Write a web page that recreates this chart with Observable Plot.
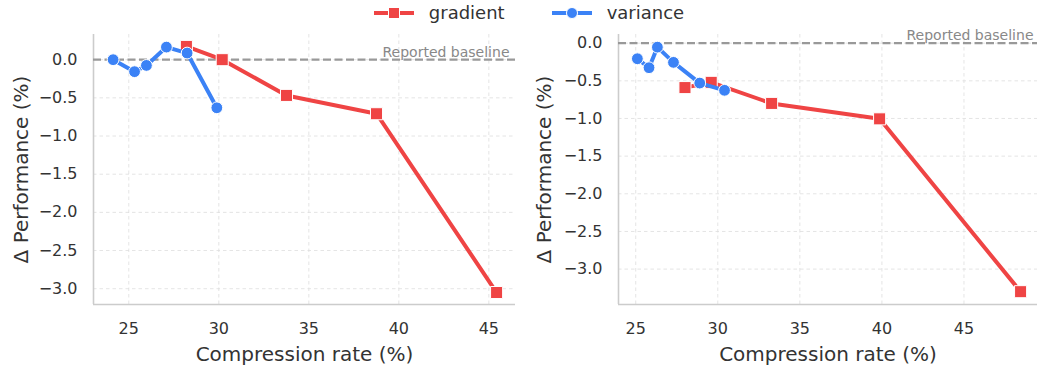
<!DOCTYPE html>
<html>
<head>
<meta charset="utf-8">
<script src="https://cdn.jsdelivr.net/npm/d3@7"></script>
<script src="https://cdn.jsdelivr.net/npm/@observablehq/plot@0.6"></script>
<style>
  body { margin: 0; background: #fff; font-family: "DejaVu Sans", sans-serif; color: #333; }
  #legend { height: 25px; display: flex; justify-content: center; align-items: center; padding-left: 20px; font-size: 18px; }
  .item { display: flex; align-items: center; margin: 0 23px; }
  .item svg { margin-right: 14px; }
  #row { display: flex; }
</style>
</head>
<body>
<div id="legend"></div>
<div id="row"></div>
<script>
// ---- data ----
const series = ["gradient", "variance"];
const seriesColors = ["#ef4444", "#3b82f6"];
const seriesSymbols = ["square", "circle"];

const leftGradientX = [28.2, 30.19, 33.76, 38.76, 45.43];
const leftGradientY = [0.174, 0.0, -0.468, -0.708, -3.05];
const leftVarianceX = [24.13, 25.32, 25.98, 27.09, 28.24, 29.89];
const leftVarianceY = [0.0, -0.157, -0.075, 0.165, 0.087, -0.63];

const rightGradientX = [28.0, 29.6, 33.28, 39.86, 48.45];
const rightGradientY = [-0.59, -0.52, -0.80, -1.005, -3.30];
const rightVarianceX = [25.1, 25.81, 26.32, 27.3, 28.9, 30.41];
const rightVarianceY = [-0.207, -0.326, -0.053, -0.255, -0.53, -0.626];

const xTicks = [25, 30, 35, 40, 45];
const yTicks = [0, -0.5, -1.0, -1.5, -2.0, -2.5, -3.0];
const baselineValue = [0];
const baselineLabel = "Reported baseline";
const xLabel = "Compression rate (%)";
const yLabel = "Δ Performance (%)";

const leftXDomain = [23.04, 46.48];
const leftYDomain = [-3.207, 0.33];
const rightXDomain = [23.95, 49.48];
const rightYDomain = [-3.47, 0.115];

// ---- legend ----
const legend = d3.select("#legend");
series.forEach((s, i) => {
  const item = legend.append("div").attr("class", "item");
  const svg = item.append("svg").attr("width", 42).attr("height", 14);
  svg.append("line").attr("x1", 1).attr("x2", 41).attr("y1", 7).attr("y2", 7)
    .attr("stroke", seriesColors[i]).attr("stroke-width", 4);
  if (seriesSymbols[i] === "square") {
    svg.append("rect").attr("x", 15.5).attr("y", 1.5).attr("width", 11).attr("height", 11)
      .attr("fill", seriesColors[i]).attr("stroke", "#fff").attr("stroke-width", 1);
  } else {
    svg.append("circle").attr("cx", 21).attr("cy", 7).attr("r", 5.5)
      .attr("fill", seriesColors[i]).attr("stroke", "#fff").attr("stroke-width", 1);
  }
  item.append("span").text(s);
});

function toRows(xs, ys) { return xs.map((x, i) => ({x, y: ys[i]})); }

function panel(gx, gy, vx, vy, xDomain, yDomain, opts) {
  const grad = toRows(gx, gy);
  const vari = toRows(vx, vy);
  return Plot.plot({
    width: opts.width,
    height: 342,
    marginLeft: opts.marginLeft,
    marginRight: opts.marginRight,
    marginTop: 9,
    marginBottom: 63,
    style: {fontFamily: "DejaVu Sans", fontSize: "16px", color: "#333", background: "#fff", overflow: "visible"},
    x: {domain: xDomain},
    y: {domain: yDomain},
    marks: [
      Plot.gridX(xTicks, {stroke: "#ddd", strokeOpacity: 1, strokeWidth: 0.8, strokeDasharray: "3.5,3"}),
      Plot.gridY(yTicks, {stroke: "#ddd", strokeOpacity: 1, strokeWidth: 0.8, strokeDasharray: "3.5,3"}),
      Plot.ruleX([xDomain[0]], {stroke: "#ccc", strokeWidth: 1.6}),
      Plot.ruleY([yDomain[0]], {stroke: "#ccc", strokeWidth: 1.6}),
      Plot.axisX(xTicks, {tickSize: 0, tickPadding: 18, fontSize: 16, label: null, tickFormat: d3.format("d")}),
      Plot.axisY(yTicks, {tickSize: 0, tickPadding: 16, fontSize: 16, label: null, tickFormat: d3.format(".1f")}),
      Plot.ruleY(baselineValue, {stroke: "#999", strokeWidth: 2.2, strokeDasharray: "8,3.5"}),
      Plot.text(baselineValue, {y: d => d, frameAnchor: "right", text: () => baselineLabel,
        textAnchor: "end", lineAnchor: "bottom", dy: -3, dx: opts.baseDx, fill: "#888", fontSize: 14}),
      Plot.line(grad, {x: "x", y: "y", stroke: seriesColors[0], strokeWidth: 4}),
      Plot.dot(grad, {x: "x", y: "y", symbol: "square", r: 6.8, fill: seriesColors[0], stroke: "#fff", strokeWidth: 1}),
      Plot.line(vari, {x: "x", y: "y", stroke: seriesColors[1], strokeWidth: 4}),
      Plot.dot(vari, {x: "x", y: "y", symbol: "circle", r: 5.9, fill: seriesColors[1], stroke: "#fff", strokeWidth: 1}),
      Plot.text([xLabel], {frameAnchor: "bottom", lineAnchor: "middle", dy: 50, fontSize: 20, fill: "#333"}),
      Plot.text([yLabel], {frameAnchor: "left", textAnchor: "middle", lineAnchor: "middle", dx: opts.yLabelDx, rotate: -90, fontSize: 20, fill: "#333"})
    ]
  });
}

const row = document.getElementById("row");
row.appendChild(panel(leftGradientX, leftGradientY, leftVarianceX, leftVarianceY, leftXDomain, leftYDomain,
  {width: 518, marginLeft: 93, marginRight: 3, baseDx: -6, yLabelDx: -72}));
row.appendChild(panel(rightGradientX, rightGradientY, rightVarianceX, rightVarianceY, rightXDomain, rightYDomain,
  {width: 519, marginLeft: 100, marginRight: 0, baseDx: -4, yLabelDx: -74}));
</script>
</body>
</html>
